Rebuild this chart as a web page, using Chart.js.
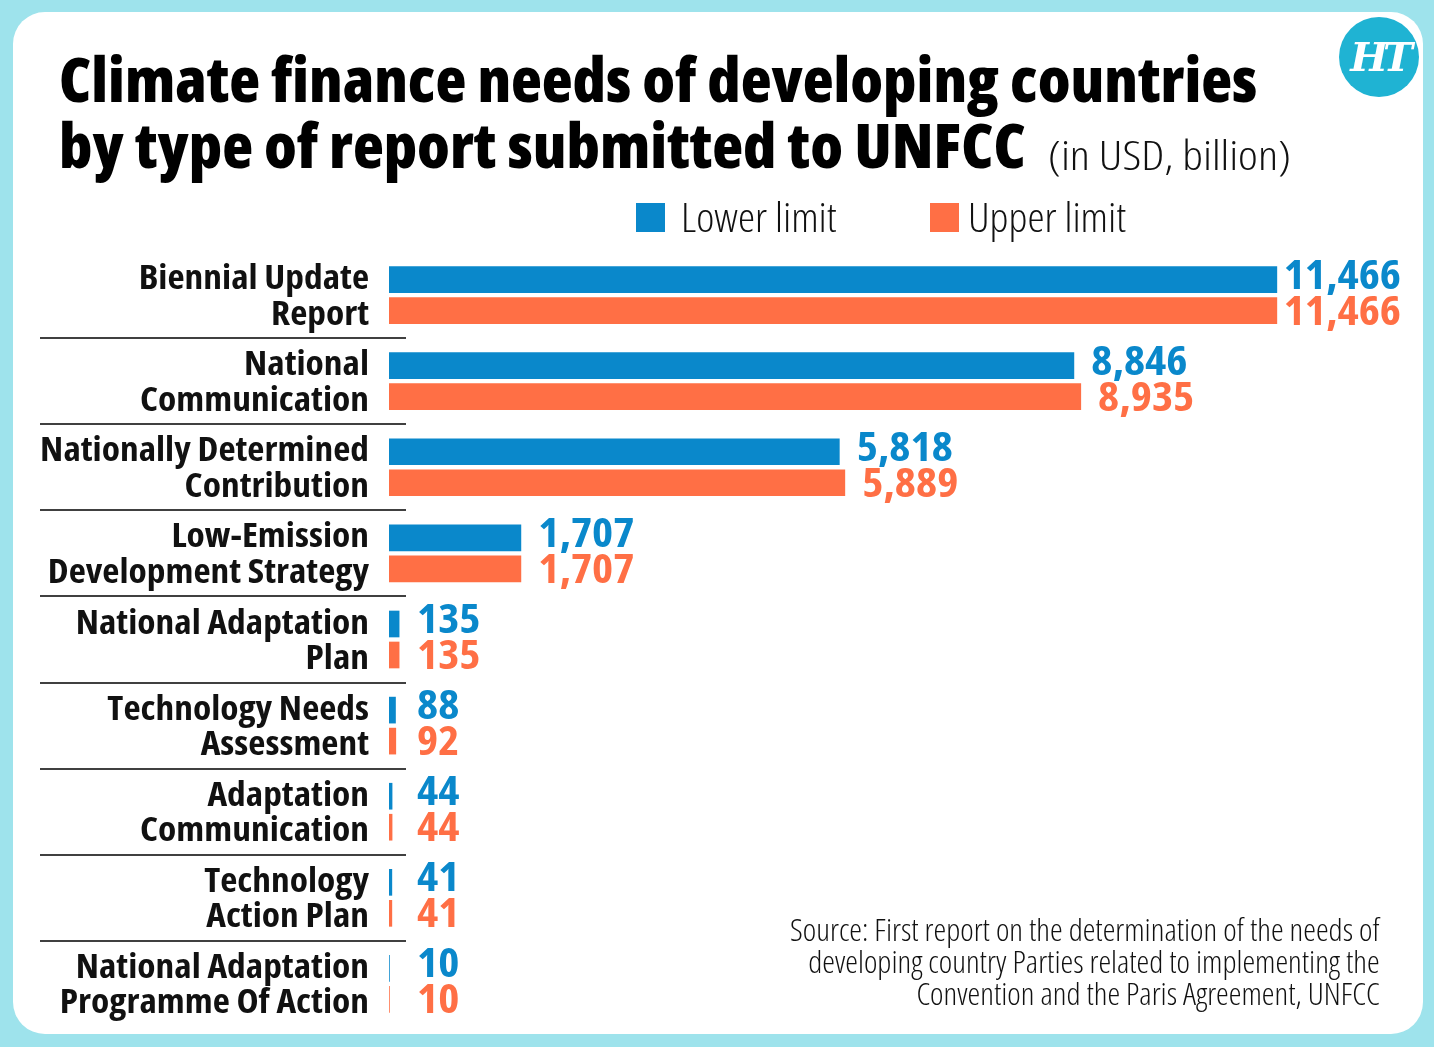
<!DOCTYPE html>
<html>
<head>
<meta charset="utf-8">
<script src="https://cdn.jsdelivr.net/npm/chart.js@4"></script>
<style>
  html, body { margin: 0; padding: 0; }
  body { width: 1434px; height: 1047px; background: #9ee3ec; position: relative; overflow: hidden;
         font-family: "Open Sans", sans-serif; color: #111; }
  #card { position: absolute; left: 13px; top: 12px; width: 1410px; height: 1022px; background: #fff; border-radius: 32px; }
  #chart-wrap { position: absolute; left: 0; top: 0; width: 1434px; height: 1047px; }
  .t { position: absolute; left: 59px; margin: 0; white-space: nowrap; font-size: 62px; line-height: 1;
       font-weight: 800; font-stretch: 75%; color: #000; transform: scaleX(1.028); transform-origin: left top; }
  #unit { position: absolute; left: 1048px; top: 135px; font-size: 40px; line-height: 1; font-weight: 300;
          font-stretch: 75%; white-space: nowrap; transform: scaleX(1.18); transform-origin: left top; }
  #logo { position: absolute; left: 1339px; top: 17px; width: 80px; height: 80px; border-radius: 50%; background: #1fb3d3;
          color: #fff; font: bold italic 40px "DejaVu Serif", serif; text-align: center; line-height: 80px; letter-spacing: -5px; }
  .legend { position: absolute; top: 197px; font-size: 40px; line-height: 1; font-weight: 300; font-stretch: 75%;
            display: flex; align-items: center; white-space: nowrap; }
  .legend i { display: inline-block; width: 29px; height: 29px; }
  .legend span { display: inline-block; transform: scaleX(1.08); transform-origin: left center; }
  #source { position: absolute; right: 54px; top: 913px; text-align: right; font-size: 31px; line-height: 32px;
            font-weight: 300; font-stretch: 75%; white-space: nowrap; transform: scaleX(1.035); transform-origin: right top; }
</style>
</head>
<body>
<div id="card"></div>
<div id="chart-wrap"><canvas id="chart" width="1434" height="1047"></canvas></div>
<div class="t" style="top:47px">Climate finance needs of developing countries</div>
<div class="t" style="top:113px">by type of report submitted to UNFCC</div>
<div id="unit">(in USD, billion)</div>
<div id="logo">HT</div>
<div class="legend" style="left:636px"><i style="background:#0a88cb;margin-right:16px"></i><span>Lower limit</span></div>
<div class="legend" style="left:930px"><i style="background:#ff6f45;margin-right:9px"></i><span>Upper limit</span></div>
<div id="source">Source: First report on the determination of the needs of<br>developing country Parties related to implementing the<br>Convention and the Paris Agreement, UNFCC</div>
<script>
const CATEGORIES = [
  ['Biennial Update', 'Report'],
  ['National', 'Communication'],
  ['Nationally Determined', 'Contribution'],
  ['Low-Emission', 'Development Strategy'],
  ['National Adaptation', 'Plan'],
  ['Technology Needs', 'Assessment'],
  ['Adaptation', 'Communication'],
  ['Technology', 'Action Plan'],
  ['National Adaptation', 'Programme Of Action'],
];
const LOWER = [11466, 8846, 5818, 1707, 135, 88, 44, 41, 10];
const UPPER = [11466, 8935, 5889, 1707, 135, 92, 44, 41, 10];

const BLUE = '#0a88cb';
const ORANGE = '#ff6f45';
const FONT = '"Open Sans", sans-serif';

// Open Sans condensed is a bit too narrow for this typeface, so widen it a touch.
function wideText(ctx, txt, x, y, sx) {
  ctx.save();
  ctx.translate(x, y);
  ctx.scale(sx, 1);
  ctx.fillText(txt, 0, 0);
  ctx.restore();
}

// Two-line category names plus the thin rules between categories.
const categoryLabels = {
  id: 'categoryLabels',
  afterDraw(chart) {
    const y = chart.scales.y;
    const ctx = chart.ctx;
    ctx.save();
    ctx.font = '700 34px ' + FONT;
    ctx.fontStretch = 'condensed';
    ctx.fillStyle = '#111';
    ctx.textAlign = 'right';
    ctx.textBaseline = 'alphabetic';
    CATEGORIES.forEach((lines, i) => {
      const cy = y.getPixelForValue(i);
      wideText(ctx, lines[0], 369, cy - 6, 1.1);
      wideText(ctx, lines[1], 369, cy + 29.5, 1.1);
    });
    ctx.strokeStyle = '#000';
    ctx.lineWidth = 1.5;
    for (let i = 0; i < CATEGORIES.length - 1; i++) {
      const py = Math.round((y.getPixelForValue(i) + y.getPixelForValue(i + 1)) / 2);
      ctx.beginPath();
      ctx.moveTo(40, py);
      ctx.lineTo(406, py);
      ctx.stroke();
    }
    ctx.restore();
  }
};

// Coloured value labels at the end of every bar.
const valueLabels = {
  id: 'valueLabels',
  afterDatasetsDraw(chart) {
    const ctx = chart.ctx;
    const sx = 1.1;
    ctx.save();
    ctx.font = '700 41px ' + FONT;
    ctx.fontStretch = 'condensed';
    ctx.textBaseline = 'alphabetic';
    ctx.textAlign = 'left';
    chart.data.datasets.forEach((ds, di) => {
      const meta = chart.getDatasetMeta(di);
      meta.data.forEach((el, i) => {
        const txt = ds.data[i].toLocaleString('en-US');
        const w = ctx.measureText(txt).width * sx;
        let x = Math.max(el.x + 17, 417);
        x = Math.min(x, 1401 - w);
        ctx.fillStyle = ds.backgroundColor;
        wideText(ctx, txt, x, el.y + (di === 0 ? 9 : 14), sx);
      });
    });
    ctx.restore();
  }
};

new Chart(document.getElementById('chart'), {
  type: 'bar',
  data: {
    labels: CATEGORIES.map(l => l.join(' ')),
    datasets: [
      {label: 'Lower limit', data: LOWER, backgroundColor: BLUE},
      {label: 'Upper limit', data: UPPER, backgroundColor: ORANGE},
    ],
  },
  options: {
    indexAxis: 'y',
    responsive: false,
    animation: false,
    categoryPercentage: 0.72,
    barPercentage: 0.86,
    layout: {padding: {top: 252, bottom: 20, left: 0, right: 38}},
    plugins: {legend: {display: false}, tooltip: {enabled: false}},
    scales: {
      x: {display: false, min: 0, max: 13000},
      y: {
        afterFit: (s) => { s.width = 389; },
        border: {display: false},
        grid: {display: false, drawTicks: false},
        ticks: {display: false},
      },
    },
  },
  plugins: [categoryLabels, valueLabels],
});
</script>
</body>
</html>
